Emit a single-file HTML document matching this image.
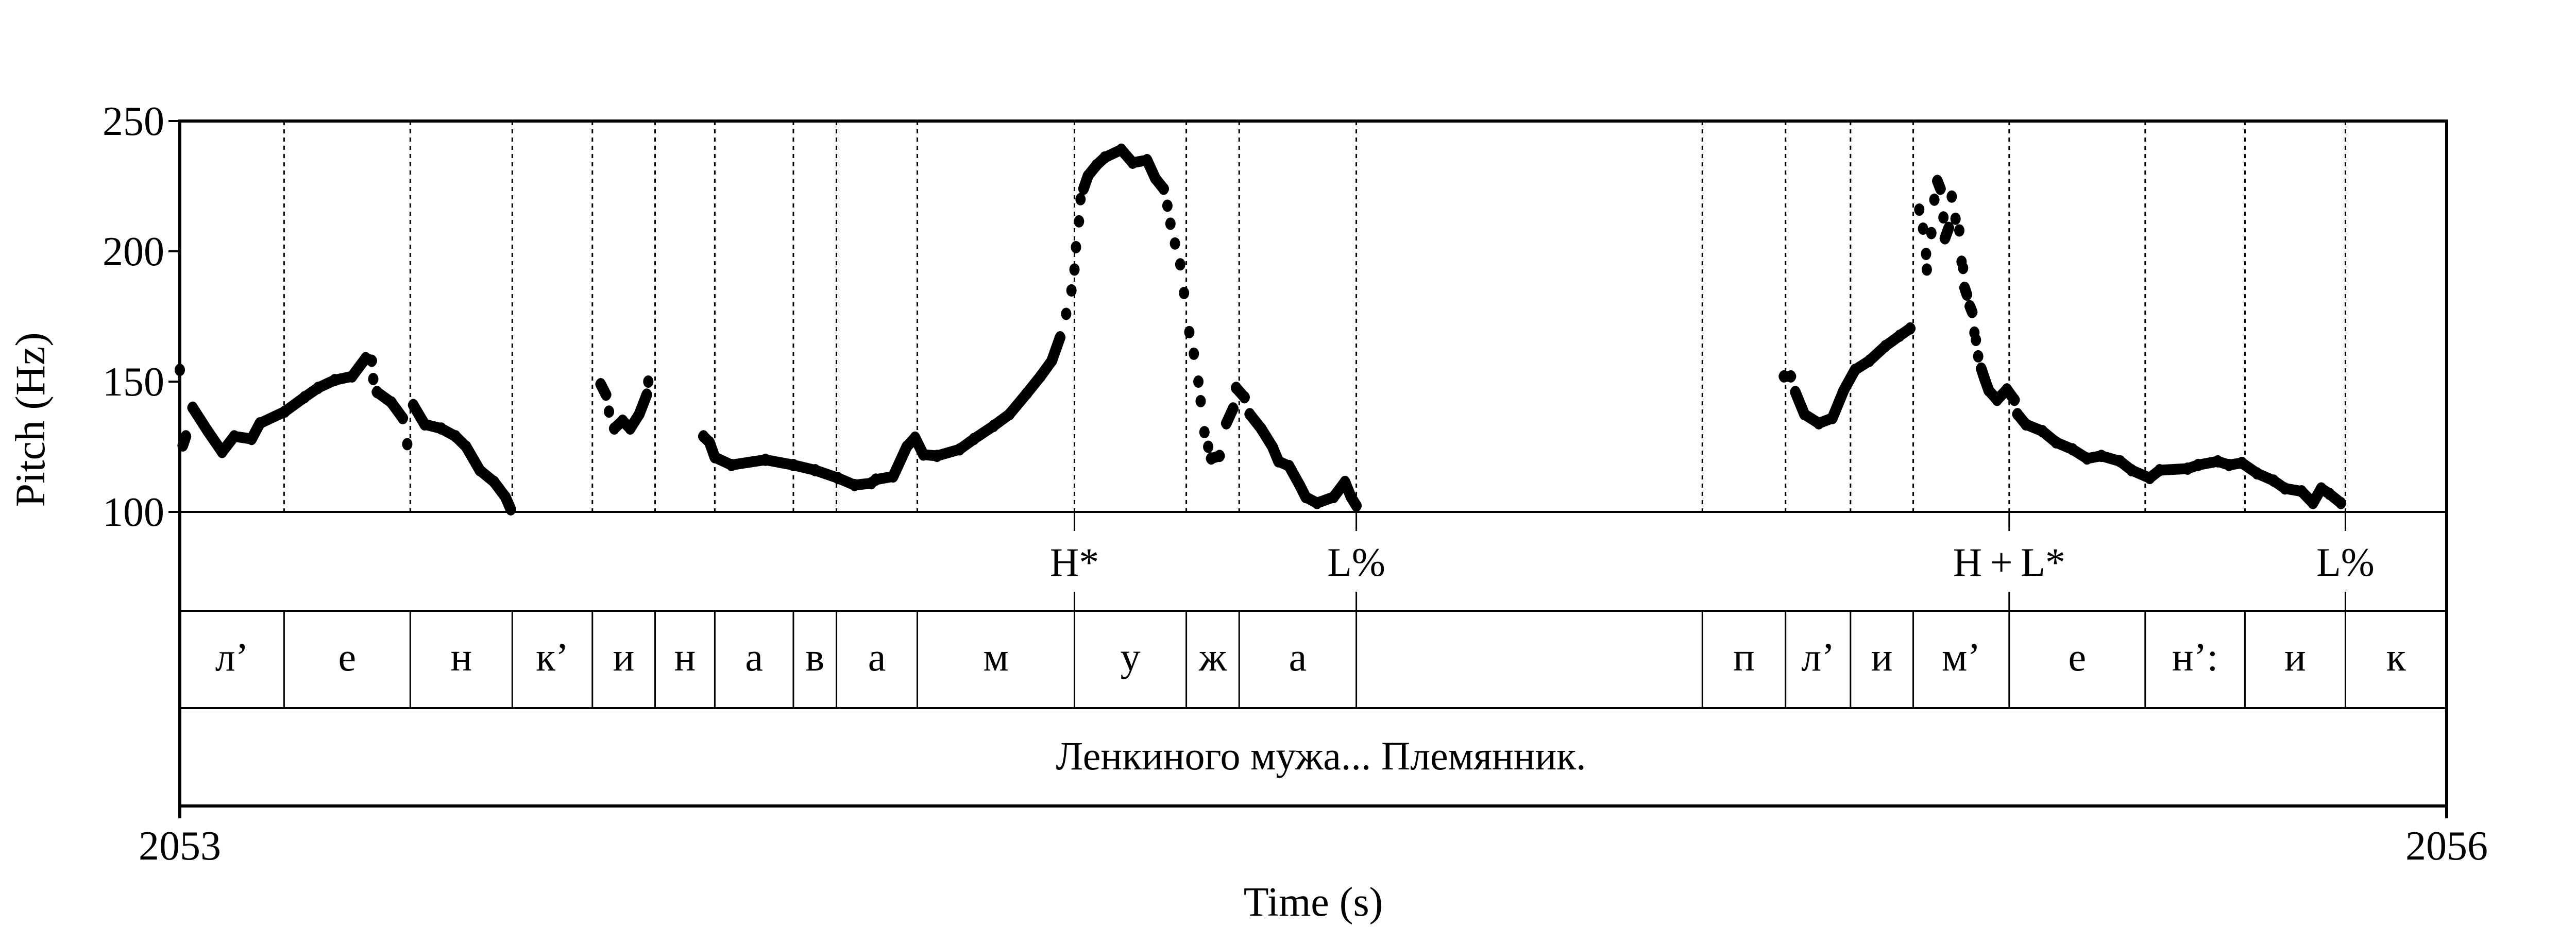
<!DOCTYPE html>
<html><head><meta charset="utf-8"><style>
html,body{margin:0;padding:0;background:#fff}
svg{display:block}
text{font-family:"Liberation Serif",serif;fill:#000}
</style></head><body>
<svg id="chart" width="5100" height="1800" viewBox="0 0 5100 1800" xmlns="http://www.w3.org/2000/svg">
<g id="g-grid"></g>
<g id="g-frame"></g>
<g id="g-tiers"></g>
<g id="g-pitch"></g>
<g id="g-axes"></g>
</svg>
<script>
// ---- data ----
const tStart = 2053, tEnd = 2056;
const yTicks = [100, 150, 200, 250];
const xTickLabels = ["2053", "2056"];
const pitchTimes = [
0.000,0.004,0.008,0.017,0.037,0.056,0.072,0.095,0.106,0.139,0.165,0.183,0.205,0.228,0.246,0.254,0.256,0.261,0.280,0.295,0.301,0.309,0.324,0.346,0.365,0.379,0.397,0.416,0.431,0.438,
0.557,0.564,0.568,0.575,0.586,0.596,0.608,0.618,0.620,
0.693,0.701,0.708,0.730,0.775,0.812,0.841,0.871,0.893,0.915,0.921,0.944,0.962,0.973,0.984,1.002,1.032,1.051,1.077,1.098,1.121,1.139,1.154,1.165,1.173,1.180,1.184,1.186,1.190,1.192,1.196,1.202,1.213,1.224,1.246,1.261,1.280,1.291,1.302,1.307,1.311,1.317,1.324,1.329,1.336,1.342,1.348,1.351,1.356,1.361,1.365,1.376,1.385,1.394,1.398,1.409,1.416,1.431,1.446,1.454,1.468,1.482,1.490,1.505,1.527,1.542,1.550,1.557,
2.123,2.132,2.138,2.150,2.169,2.187,2.202,2.217,2.236,2.257,2.276,2.290,
2.302,2.307,2.311,2.312,2.318,2.322,2.326,2.330,2.334,2.336,2.341,2.345,2.350,2.355,
2.358,2.360,2.362,2.365,2.369,2.372,2.375,2.377,2.380,2.384,2.389,2.394,2.405,2.418,2.428,2.432,2.443,2.465,2.483,2.505,2.524,2.543,2.568,2.583,2.607,2.620,2.657,2.671,2.697,2.712,2.729,2.749,2.771,2.786,2.808,2.823,2.834,2.845,2.860
];
const pitchHz = [
154.5,125.5,129,140,131,123,129,128,134,138.5,144,147.6,150.6,152,159,158,151,146,142,136,126,141,133.6,132,129,125,116,111.5,105.7,101,
149,145,138.5,132,135,132,137.5,145,150,
129,126.7,121,118,120,118,116,113,110.3,111,112.4,113.6,125,128.5,122,121.5,124,128,133,137.5,145.5,152,158,167,176,185,193,201.6,211.5,220,224,229,233,236,239,234,235,228,224,217.5,210.6,203,195,184,169,160.7,150,142.5,130.6,125,120.5,121.5,134,139.7,147.6,144,137.5,132,125,119.4,117.6,110.3,105.7,103.4,105.7,111.5,105.7,102.4,
152,152,146,137.5,134,136,146.6,154.5,158,163.6,167.6,170.4,
216,208.7,199,193,207,219.8,227,224,213,205,209,221,212.5,208,
196,193.6,186,183.4,178.9,176.7,168.8,166,159.7,155,150.6,146.6,143,147,143,137.5,133.6,131,126.7,124,120.5,121.5,119.4,116,113,116,116.6,118,119.4,118,118.8,114.8,112,109,107.9,103.4,109,106.9,103.4
];
const segBounds = [0.138,0.305,0.440,0.546,0.629,0.708,0.812,0.869,0.976,1.184,1.332,1.402,1.557,2.015,2.125,2.211,2.294,2.421,2.601,2.733,2.866];
const segLabels = ["л’","е","н","к’","и","н","а","в","а","м","у","ж","а","","п","л’","и","м’","е","н’:","и","к"];
const toneTimes = [1.184,1.557,2.421,2.866];
const toneLabels = ["H*","L%","H\u2009+\u2009L*","L%"];
const wordText = "Ленкиного мужа... Племянник.";

// ---- layout ----
const X0=349, X1=4749, Y250=235, Y100=994, T1=1186, T2=1375, YB=1565;
const NS="http://www.w3.org/2000/svg";
const x = t => X0 + (t/(tEnd-tStart))*(X1-X0);
const y = hz => Y100 - (hz-100)/(250-100)*(Y100-Y250);
function mk(tag, attrs, parent){const e=document.createElementNS(NS,tag);for(const k in attrs)e.setAttribute(k,attrs[k]);parent.appendChild(e);return e;}
const gGrid=document.getElementById('g-grid'), gFrame=document.getElementById('g-frame'), gTiers=document.getElementById('g-tiers'), gPitch=document.getElementById('g-pitch'), gAxes=document.getElementById('g-axes');

segBounds.forEach(b=>{
  const d=mk('line',{x1:x(b),x2:x(b),y1:Y250,y2:Y100,stroke:'#000','stroke-width':3,'stroke-dasharray':'8 8'},gGrid);
  
  
  const s=mk('line',{x1:x(b),x2:x(b),y1:T1,y2:T2,stroke:'#000','stroke-width':3},gTiers);
  
  
});

[[X0,Y250,X1,Y250,6],[X0,Y100,X1,Y100,4],[X0,T1,X1,T1,4],[X0,T2,X1,T2,4],[X0,YB,X1,YB,6],[X0,Y250-3,X0,YB+24,6],[X1,Y250-3,X1,YB+24,6]].forEach(a=>{
  const l=mk('line',{x1:a[0],y1:a[1],x2:a[2],y2:a[3],stroke:'#000','stroke-width':a[4]},gFrame);
  
  
});

yTicks.forEach(v=>{
  const l=mk('line',{x1:X0-22,x2:X0,y1:y(v),y2:y(v),stroke:'#000','stroke-width':4},gAxes);
  
  
  const t=mk('text',{x:X0-30,y:y(v)+27,'font-size':80,'text-anchor':'end'},gAxes);
  t.textContent=v;
  
  
});
[[X0,xTickLabels[0]],[X1,xTickLabels[1]]].forEach(a=>{
  const t=mk('text',{x:a[0],y:1669,'font-size':80,'text-anchor':'middle'},gAxes);
  t.textContent=a[1];
  
  
});
const xt=mk('text',{x:(X0+X1)/2,y:1778,'font-size':80,'text-anchor':'middle'},gAxes);
xt.textContent="Time (s)";


const yt=mk('text',{x:0,y:0,'font-size':82,'text-anchor':'middle',transform:'translate(86,815) rotate(-90)'},gAxes);
yt.textContent="Pitch (Hz)";



toneTimes.forEach((tt,i)=>{
  const l=mk('line',{x1:x(tt),x2:x(tt),y1:Y100,y2:Y100+37,stroke:'#000','stroke-width':3},gTiers);
  
  
  const l2=mk('line',{x1:x(tt),x2:x(tt),y1:T1-37,y2:T1,stroke:'#000','stroke-width':3},gTiers);
  
  
  const t=mk('text',{x:x(tt),y:1118,'font-size':78,'text-anchor':'middle'},gTiers);
  t.textContent=toneLabels[i];
  
  
});
const allB=[0].concat(segBounds,[tEnd-tStart]);
segLabels.forEach((lab,i)=>{
  if(!lab) return;
  const t=mk('text',{x:(x(allB[i])+x(allB[i+1]))/2,y:1302,'font-size':78,'text-anchor':'middle'},gTiers);
  t.textContent=lab;
  
  
});
const wt=mk('text',{x:(X0+X1)/2+15,y:1494,'font-size':78,'text-anchor':'middle'},gTiers);
wt.textContent=wordText;



for(let i=1;i<pitchTimes.length;i++){
  const dt=pitchTimes[i]-pitchTimes[i-1], dh=Math.abs(pitchHz[i]-pitchHz[i-1]);
  if(dt<0.05 && dt>0 && dh/dt<900){
    const l=mk('line',{x1:x(pitchTimes[i-1]),y1:y(pitchHz[i-1]),x2:x(pitchTimes[i]),y2:y(pitchHz[i]),stroke:'#000','stroke-width':21,'stroke-linecap':'round'},gPitch);
    
    
  }
}
pitchTimes.forEach((tt,i)=>{
  const c=mk('ellipse',{cx:x(tt),cy:y(pitchHz[i]),rx:10,ry:12,fill:'#000'},gPitch);
  
  
});
</script>
</body></html>
